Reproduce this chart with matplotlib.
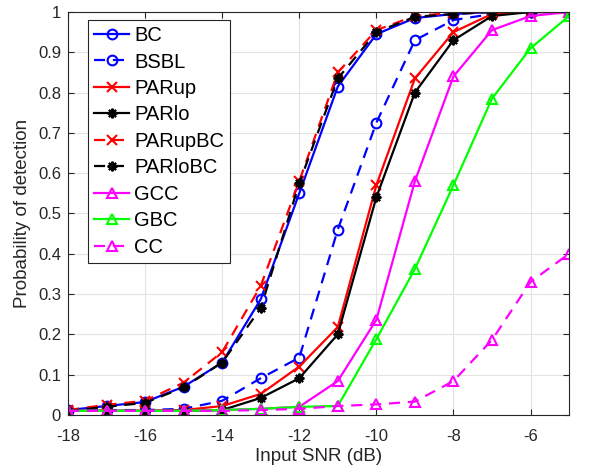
import matplotlib
matplotlib.use("Agg")
import matplotlib.pyplot as plt

plt.rcParams['font.family'] = ['Liberation Sans', 'DejaVu Sans']

snr = [-18, -17, -16, -15, -14, -13, -12, -11, -10, -9, -8, -7, -6, -5]
bc      = [0.012, 0.022, 0.032, 0.070, 0.130, 0.287, 0.550, 0.815, 0.945, 0.985, 0.995, 1.0, 1.0, 1.0]
bsbl    = [0.010, 0.012, 0.012, 0.015, 0.035, 0.091, 0.142, 0.460, 0.725, 0.930, 0.980, 0.995, 1.0, 1.0]
parup   = [0.010, 0.010, 0.010, 0.012, 0.022, 0.052, 0.120, 0.218, 0.570, 0.835, 0.950, 0.995, 1.0, 1.0]
parlo   = [0.010, 0.010, 0.010, 0.010, 0.012, 0.042, 0.091, 0.200, 0.540, 0.800, 0.930, 0.990, 1.0, 1.0]
parupbc = [0.012, 0.025, 0.035, 0.080, 0.156, 0.320, 0.580, 0.850, 0.955, 0.990, 0.998, 1.0, 1.0, 1.0]
parlobc = [0.010, 0.020, 0.030, 0.068, 0.130, 0.265, 0.575, 0.835, 0.950, 0.988, 0.995, 1.0, 1.0, 1.0]
gcc     = [0.010, 0.010, 0.010, 0.010, 0.012, 0.015, 0.020, 0.084, 0.236, 0.580, 0.840, 0.955, 0.990, 1.0]
gbc     = [0.010, 0.010, 0.010, 0.010, 0.012, 0.015, 0.020, 0.022, 0.188, 0.362, 0.570, 0.785, 0.910, 0.990]
cc      = [0.010, 0.010, 0.010, 0.010, 0.010, 0.012, 0.015, 0.022, 0.026, 0.033, 0.084, 0.186, 0.330, 0.400]

labels = ['BC', 'BSBL', 'PARup', 'PARlo', 'PARupBC', 'PARloBC', 'GCC', 'GBC', 'CC']
xticks = [-18, -16, -14, -12, -10, -8, -6]
yticks = [0, 0.1, 0.2, 0.3, 0.4, 0.5, 0.6, 0.7, 0.8, 0.9, 1]

fig = plt.figure(figsize=(5.94, 4.72), dpi=100)
ax = fig.add_axes([0.1145, 0.121, 0.8435, 0.8536])

BLUE, RED, BLACK, MAG, GREEN = '#0000ff', '#ff0000', '#000000', '#ff00ff', '#00ff00'
AST = (8, 2, 0)
styles = [
    (bc, BLUE, '-', 'o'),
    (bsbl, BLUE, '--', 'o'),
    (parup, RED, '-', 'x'),
    (parlo, BLACK, '-', AST),
    (parupbc, RED, '--', 'x'),
    (parlobc, BLACK, '--', AST),
    (gcc, MAG, '-', '^'),
    (gbc, GREEN, '-', '^'),
    (cc, MAG, '--', '^'),
]
for (y, c, ls, m), lab in zip(styles, labels):
    kw = dict(dashes=(5, 3.5)) if ls == '--' else {}
    ax.plot(snr, y, color=c, linestyle=ls, marker=m, markersize=7,
            markerfacecolor='none', markeredgecolor=c, markeredgewidth=1.5,
            linewidth=1.6, label=lab, **kw)

ax.set_xlim(-18, -5)
ax.set_ylim(0, 1)
ax.set_xticks(xticks)
ax.set_xticklabels([str(t) for t in xticks])
ax.set_yticks(yticks)
ax.set_yticklabels(['0'] + ['%.1f' % t for t in yticks[1:-1]] + ['1'])
ax.grid(True, color='#e3e3e3', linewidth=0.8)
ax.set_axisbelow(True)
ax.tick_params(direction='in', top=True, right=True, labelsize=12, length=4,
               color='#262626', labelcolor='#262626')
ax.tick_params(axis='x', pad=10)
ax.tick_params(axis='y', pad=5)
for s in ax.spines.values():
    s.set_color('#262626')
    s.set_linewidth(0.8)
ax.set_xlabel('Input SNR (dB)', fontsize=13.5, color='#262626', labelpad=3)
ax.set_ylabel('Probability of detection', fontsize=13.5, color='#262626', labelpad=5)

leg = ax.legend(loc='upper left', bbox_to_anchor=(0.04, 0.98), fontsize=14.5,
                frameon=True, fancybox=False, edgecolor='#262626', framealpha=1,
                handlelength=1.74, handletextpad=0.25, borderpad=0.3, labelspacing=0.37,
                borderaxespad=0)
leg.get_frame().set_linewidth(0.8)

fig.savefig('out.png', dpi=100)
